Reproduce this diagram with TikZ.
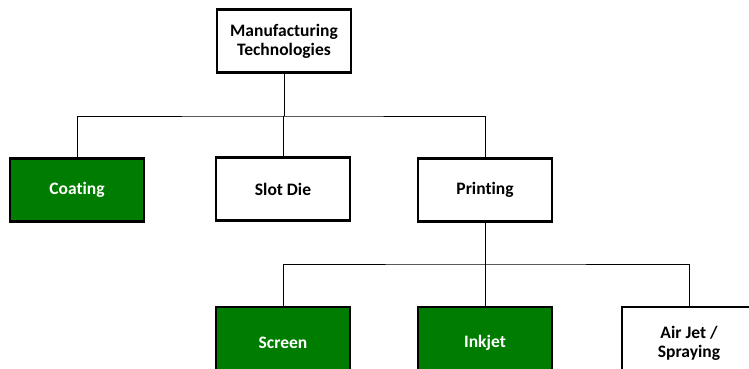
\documentclass[tikz,border=0pt]{standalone}
\usepackage{fontspec}
\setmainfont{Carlito}[Ligatures=NoCommon]
\usepackage{tikz}
\usetikzlibrary{calc, positioning}

\definecolor{boxgreen}{RGB}{0,125,0}

\tikzset{
  techbox/.style={draw=black, line width=2.2pt, fill=white, minimum width=134pt, minimum height=63pt,
    align=center, font=\fontsize{17.5}{19}\selectfont\bfseries, inner sep=2pt},
  greenbox/.style={techbox, fill=boxgreen, text=white},
  link/.style={black, line width=0.8pt}
}

\begin{document}
\begin{tikzpicture}[x=1pt, y=-1pt]
          \useasboundingbox (0,0) rectangle (749,368);
          \clip (0,0) rectangle (749,368);

          \node [techbox] (manu) at (284,41) {Manufacturing\\Technologies}; % top box

          \node [greenbox] (coat) at (77,190) {Coating}; % second row
          \node [techbox] (slot) at (283,189) {Slot Die};
          \node [techbox] (prnt) at (485,190) {Printing};

          \node [greenbox, minimum height=72pt] (scrn) at (283,343) {Screen}; % third row
          \node [greenbox, minimum height=72pt] (inkj) at (485,343) {Inkjet};
          \node [techbox, minimum height=72pt] (airj) at (689,343) {Air Jet /\\Spraying};

          \coordinate (busa) at (manu.south |- 0,116);
          \coordinate (busb) at (prnt.south |- 0,264);

          \draw [link] (manu.south) -- (busa);
          \draw [link] (coat.north) |- (busa) -| (prnt.north);
          \draw [link] (slot.north) -- (slot.north |- busa);

          \draw [link] (prnt.south) -- (busb);
          \draw [link] (scrn.north) |- (busb) -| (airj.north);
          \draw [link] (inkj.north) -- (inkj.north |- busb);
        \end{tikzpicture}
\end{document}
